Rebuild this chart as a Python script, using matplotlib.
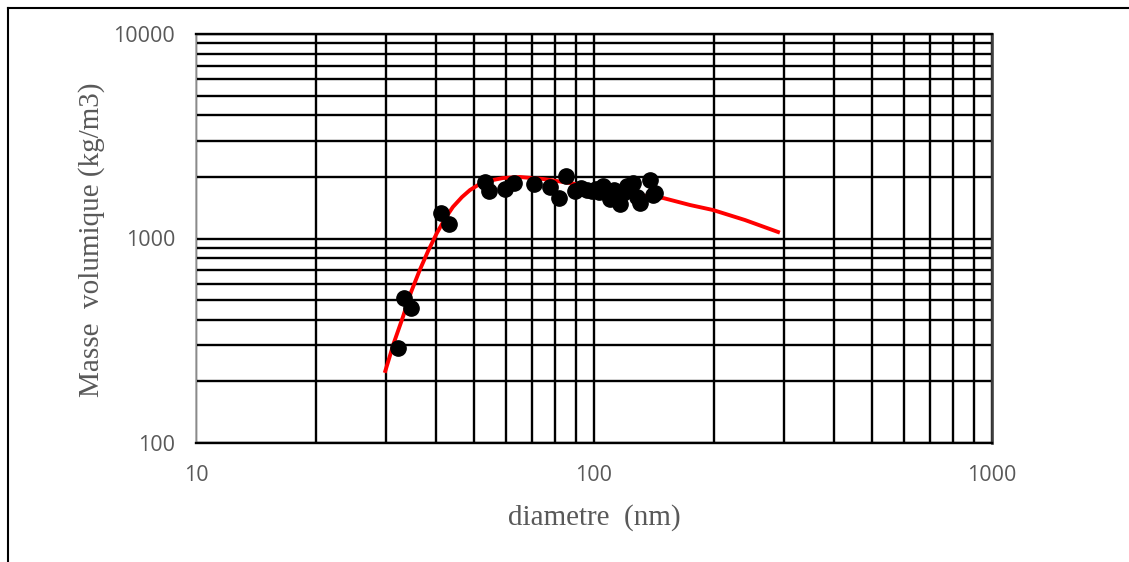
import matplotlib
matplotlib.use("Agg")
import matplotlib.pyplot as plt
from matplotlib.lines import Line2D
from matplotlib.ticker import LogLocator, FixedLocator, NullFormatter, FixedFormatter

# Measured data points (diameter nm, density kg/m3)
diam = [32.2, 33.3, 34.7, 41.3, 43.2, 53.2, 54.5, 59.8, 63.0, 70.7, 77.5, 81.7, 85.1,
        89.6, 92.8, 96.0, 101.2, 105.3, 107.8, 109.7, 112.3, 116.3, 118.3, 121.1,
        125.3, 128.2, 130.5, 138.2, 140.7, 142.3, 99.0, 103.0, 114.0]
dens = [291, 512, 457, 1332, 1178, 1889, 1707, 1746, 1868, 1847, 1785, 1578, 2023,
        1707, 1765, 1726, 1746, 1806, 1669, 1560, 1726, 1474, 1669, 1806,
        1868, 1595, 1491, 1932, 1632, 1669, 1700, 1680, 1640]

# Fitted curve
fit_d = [29.9, 31.4, 33.1, 34.7, 36.5, 38.3, 40.3, 42.2, 44.2, 46.6, 48.8, 52.6, 59.1,
         65.2, 74.5, 87.1, 103.5, 123.2, 149.1, 174.3, 199.1, 239.6, 290.0]
fit_r = [225, 308, 413, 547, 702, 869, 1064, 1246, 1426, 1595, 1726, 1889, 1976,
         1998, 1954, 1868, 1746, 1650, 1578, 1458, 1378, 1231, 1076]

x_ticks = [10, 100, 1000]
x_labels = ["10", "100", "1000"]
y_ticks = [100, 1000, 10000]
y_labels = ["100", "1000", "10000"]

W, H = 1129, 562
fig = plt.figure(figsize=(W / 100, H / 100), dpi=100)
ax = fig.add_axes([196 / W, 1 - 443 / H, (992 - 196) / W, (443 - 34) / H])

ax.set_xscale("log")
ax.set_yscale("log")
ax.set_xlim(10, 1000)
ax.set_ylim(100, 10000)

ax.xaxis.set_major_locator(FixedLocator(x_ticks))
ax.xaxis.set_major_formatter(FixedFormatter(x_labels))
ax.yaxis.set_major_locator(FixedLocator(y_ticks))
ax.yaxis.set_major_formatter(FixedFormatter(y_labels))
ax.xaxis.set_minor_locator(LogLocator(base=10, subs=range(2, 10)))
ax.yaxis.set_minor_locator(LogLocator(base=10, subs=range(2, 10)))
ax.xaxis.set_minor_formatter(NullFormatter())
ax.yaxis.set_minor_formatter(NullFormatter())

ax.grid(True, which="both", color="black", linewidth=1.7)
ax.set_axisbelow(True)
ax.tick_params(which="both", length=0)
ax.tick_params(axis="x", pad=16, labelsize=15.5, labelcolor="#595959")
ax.tick_params(axis="y", pad=15, labelsize=15.5, labelcolor="#595959")
for lab in ax.get_xticklabels() + ax.get_yticklabels():
    lab.set_fontfamily("Open Sans")

ax.plot(fit_d, fit_r, color="#ff0000", linewidth=2.8, zorder=3)
ax.plot(diam, dens, "o", color="black", markersize=11, zorder=4)

for s in ["top", "bottom"]:
    ax.spines[s].set_color("black")
    ax.spines[s].set_linewidth(1.7)
ax.spines["left"].set_color("#a6a6a6")
ax.spines["left"].set_linewidth(1.2)
ax.spines["right"].set_color("#404040")
ax.spines["right"].set_linewidth(1.9)

fig.text(594 / W, 1 - 518 / H, "diametre  (nm)", ha="center", va="center",
         fontsize=21, color="#595959", family="Liberation Serif")
fig.text(92 / W, 1 - 240 / H, "Masse  volumique (kg/m3)", ha="center", va="center",
         rotation=90, fontsize=21, color="#595959", family="Liberation Serif")

# outer chart frame (partially visible)
fig.add_artist(Line2D([8 / W, 8 / W], [1 - 8 / H, 0], transform=fig.transFigure,
                      color="black", linewidth=1.5))
fig.add_artist(Line2D([8 / W, 1], [1 - 8 / H, 1 - 8 / H], transform=fig.transFigure,
                      color="black", linewidth=1.5))

fig.savefig("out.png", dpi=100)
